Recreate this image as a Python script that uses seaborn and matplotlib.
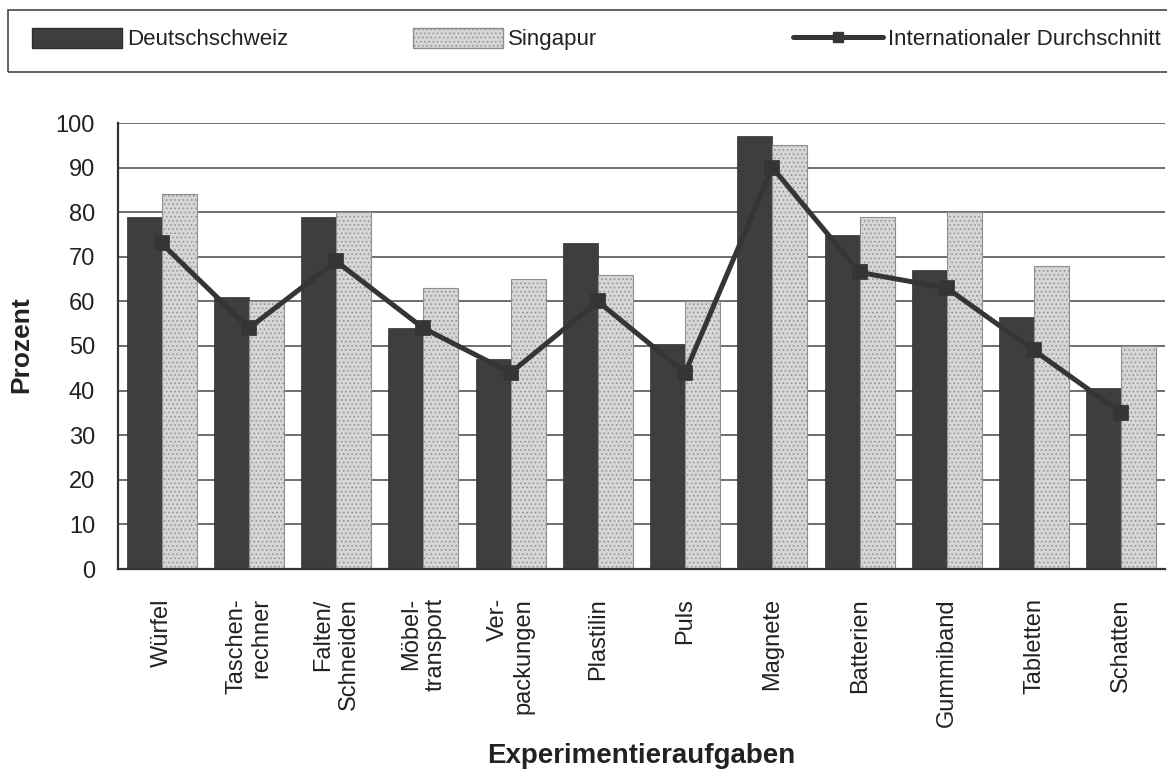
import matplotlib
matplotlib.use("Agg")
import matplotlib.pyplot as plt
import seaborn as sns
import pandas as pd
from matplotlib.patches import Patch, Rectangle
from matplotlib.lines import Line2D

categories = ["Würfel", "Taschen-\nrechner", "Falten/\nSchneiden", "Möbel-\ntransport",
              "Ver-\npackungen", "Plastilin", "Puls", "Magnete", "Batterien",
              "Gummiband", "Tabletten", "Schatten"]
deutschschweiz = [79, 61, 79, 54, 47, 73, 50.5, 97, 75, 67, 56.5, 40.5]
singapur = [84, 60, 80, 63, 65, 66, 60, 95, 79, 80, 68, 50]
international = [73, 54, 69, 54, 44, 60, 44, 90, 66.5, 63, 49, 35]
series_names = ["Deutschschweiz", "Singapur", "Internationaler Durchschnitt"]
yticks = [0, 10, 20, 30, 40, 50, 60, 70, 80, 90, 100]

sns.set_style("white")
plt.rcParams['font.family'] = ['Liberation Sans', 'DejaVu Sans']
plt.rcParams['hatch.color'] = "#a8a8a8"
plt.rcParams['hatch.linewidth'] = 0.6

df = pd.DataFrame({
    "Aufgabe": categories * 2,
    "Prozent": deutschschweiz + singapur,
    "Land": [series_names[0]] * len(categories) + [series_names[1]] * len(categories),
})

dark = "#3e3e3e"
light = "#d6d6d6"
linec = "#353535"
W, H = 1167, 769

fig = plt.figure(figsize=(W/100, H/100), dpi=100)
ax = fig.add_axes([118/W, 1 - 569/H, (1165-118)/W, (569-123)/H])

sns.barplot(data=df, x="Aufgabe", y="Prozent", hue="Land", order=categories,
            hue_order=series_names[:2], palette=[dark, light], width=0.8,
            saturation=1, legend=False, ax=ax, zorder=2)
for i, bar in enumerate(ax.patches):
    if i >= len(categories):
        bar.set_edgecolor("#8f8f8f")
        bar.set_linewidth(0.8)
        bar.set_hatch("....")
    else:
        bar.set_edgecolor("#2e2e2e")
        bar.set_linewidth(0.5)

sns.pointplot(x=categories, y=international, order=categories, color=linec,
              markers="s", linestyles="-", markersize=8, linewidth=3.6, ax=ax)
for ln in ax.lines:
    ln.set_zorder(4)

ax.set_xlim(-0.5, len(categories) - 0.5)
ax.set_ylim(0, 100)
ax.set_yticks(yticks)
ax.set_yticklabels([str(t) for t in yticks], fontsize=17, color="#222222")
ax.yaxis.grid(True, color="#555555", linewidth=1.2)
ax.set_axisbelow(True)

ax.set_xticks([i - 0.5 for i in range(len(categories) + 1)])
ax.set_xticklabels([])
ax.set_xticks(range(len(categories)), minor=True)
ax.set_xticklabels(categories, minor=True, rotation=90, fontsize=17, color="#222222",
                   va='top', ha='center', multialignment='right')
ax.tick_params(axis='x', which='minor', length=0, pad=21)
ax.tick_params(axis='x', which='major', direction='inout', length=12, width=1.5, color="#333333")
ax.tick_params(axis='y', direction='inout', length=13, width=1.5, color="#333333", pad=10)

for s in ["top", "right"]:
    ax.spines[s].set_visible(False)
for s in ["left", "bottom"]:
    ax.spines[s].set_color("#333333")
    ax.spines[s].set_linewidth(1.6)

ax.set_xlabel("")
ax.set_ylabel("")
fig.text(641/W, 1 - 763/H, "Experimentieraufgaben", fontsize=20, fontweight='bold',
         color="#222222", ha='center', va='baseline')
fig.text(21/W, 1 - 345/H, "Prozent", fontsize=19, fontweight='bold', color="#222222",
         rotation=90, ha='center', va='center')

# legend frame
fig.patches.append(Rectangle((8/W, 1 - 72/H), 1.0, 62/H, transform=fig.transFigure,
                             fill=False, edgecolor="#555555", linewidth=1.3))
handles = [Patch(facecolor=dark, edgecolor="#2e2e2e"),
           Patch(facecolor=light, edgecolor="#8f8f8f", hatch="...."),
           Line2D([0], [0], color=linec, linewidth=3.6, marker='s', markersize=7)]
starts = [32, 413, 793]
for h, name, x0 in zip(handles, series_names, starts):
    lg = fig.legend([h], [name], loc='center left', bbox_to_anchor=(x0/W, 1 - 39/H),
                    frameon=False, fontsize=16, borderpad=0, borderaxespad=0,
                    handlelength=4.05, handleheight=1.0, handletextpad=0.22)
    for t in lg.get_texts():
        t.set_color("#222222")

fig.savefig("out.png", dpi=100)
